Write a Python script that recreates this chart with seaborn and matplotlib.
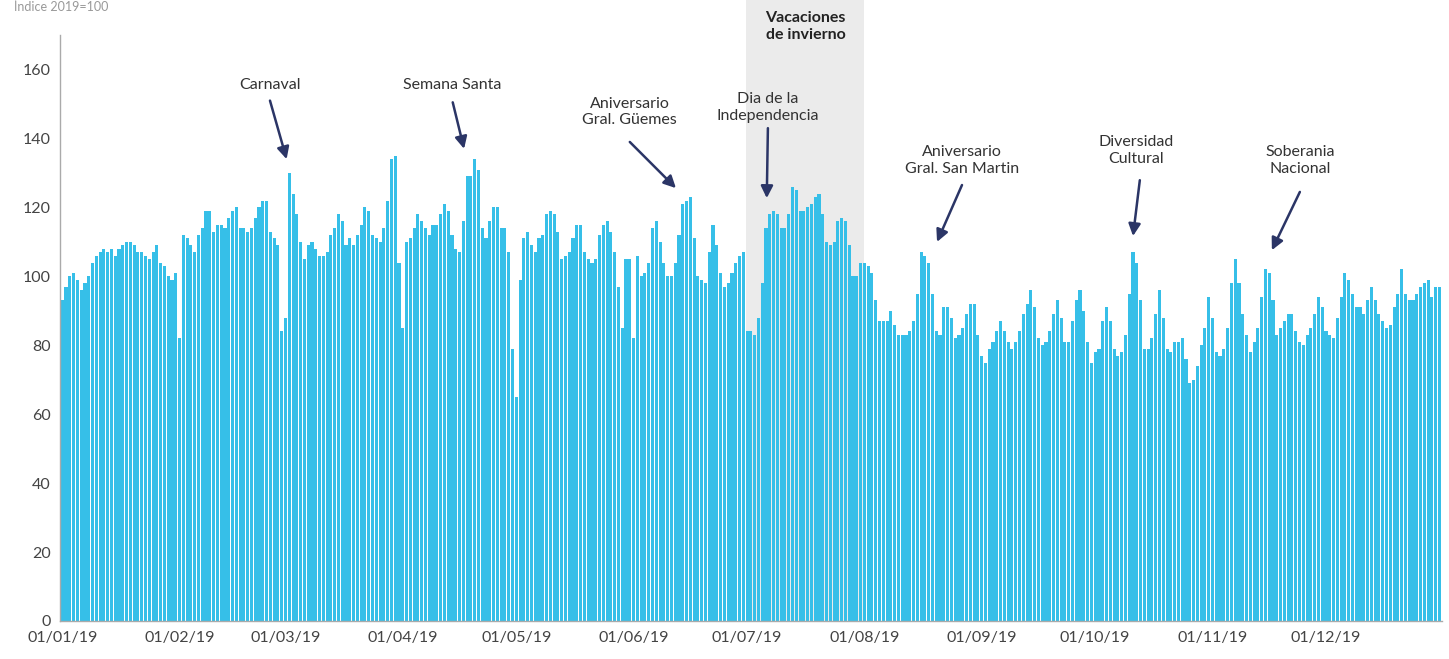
import numpy as np
import pandas as pd
import seaborn as sns
import matplotlib.pyplot as plt

# daily index values (2019 = 100), one list per month
ene = [93, 97, 100, 101, 99, 96, 98, 100, 104, 106, 107, 108, 107, 108, 106, 108,
       109, 110, 110, 109, 107, 107, 106, 105, 107, 109, 104, 103, 100, 99, 101]
feb = [82, 112, 111, 109, 107, 112, 114, 119, 119, 113, 115, 115, 114, 117, 119, 120,
       114, 114, 113, 114, 117, 120, 122, 122, 113, 111, 109, 84]
mar = [88, 130, 124, 118, 110, 105, 109, 110, 108, 106, 106, 107, 112, 114, 118, 116,
       109, 111, 109, 112, 115, 120, 119, 112, 111, 110, 114, 122, 134, 135, 104]
abr = [85, 110, 111, 114, 118, 116, 114, 112, 115, 115, 118, 121, 119, 112, 108, 107,
       116, 129, 129, 134, 131, 114, 111, 116, 120, 120, 114, 114, 107, 79]
may = [65, 99, 111, 113, 109, 107, 111, 112, 118, 119, 118, 113, 105, 106, 107, 111,
       115, 115, 107, 105, 104, 105, 112, 115, 116, 113, 107, 97, 85, 105, 105]
jun = [82, 106, 100, 101, 104, 114, 116, 110, 104, 100, 100, 104, 112, 121, 122, 123,
       111, 100, 99, 98, 107, 115, 109, 101, 97, 98, 101, 104, 106, 107]
jul = [84, 84, 83, 88, 98, 114, 118, 119, 118, 114, 114, 118, 126, 125, 119, 119,
       120, 121, 123, 124, 118, 110, 109, 110, 116, 117, 116, 109, 100, 100, 104]
ago = [104, 103, 101, 93, 87, 87, 87, 90, 86, 83, 83, 83, 84, 87, 95, 107,
       106, 104, 95, 84, 83, 91, 91, 88, 82, 83, 85, 89, 92, 92, 83]
sep = [77, 75, 79, 81, 84, 87, 84, 81, 79, 81, 84, 89, 92, 96, 91, 82,
       80, 81, 84, 89, 93, 88, 81, 81, 87, 93, 96, 90, 81, 75]
oct_ = [78, 79, 87, 91, 87, 79, 77, 78, 83, 95, 107, 104, 93, 79, 79, 82,
        89, 96, 88, 79, 78, 81, 81, 82, 76, 69, 70, 74, 80, 85, 94]
nov = [88, 78, 77, 79, 85, 98, 105, 98, 89, 83, 78, 81, 85, 94, 102, 101,
       93, 83, 85, 87, 89, 89, 84, 81, 80, 83, 85, 89, 94, 91]
dic = [84, 83, 82, 88, 94, 101, 99, 95, 91, 91, 89, 93, 97, 93, 89, 87,
       85, 86, 91, 95, 102, 95, 93, 93, 95, 97, 98, 99, 94, 97, 97]

month_labels = ['01/01/19', '01/02/19', '01/03/19', '01/04/19', '01/05/19', '01/06/19',
                '01/07/19', '01/08/19', '01/09/19', '01/10/19', '01/11/19', '01/12/19']

# holiday annotations: label, text position, arrow start, arrow end (day, value)
notes = [
    ('Carnaval', (54.9, 155.5), (54.9, 151.0), (59.3, 134.0)),
    ('Semana Santa', (103.0, 155.5), (103.2, 150.5), (106.2, 137.0)),
    ('Aniversario\nGral. Güemes', (150.0, 147.7), (150.0, 139.0), (162.2, 125.6)),
    ('Dia de la\nIndependencia', (186.5, 149.1), (186.5, 143.0), (186.2, 122.7)),
    ('Aniversario\nGral. San Martin', (237.8, 133.7), (237.8, 126.5), (231.2, 110.0)),
    ('Diversidad\nCultural', (283.8, 136.6), (284.8, 127.9), (283.0, 111.7)),
    ('Soberania\nNacional', (327.1, 133.7), (327.1, 124.5), (319.7, 107.6)),
]

months = [ene, feb, mar, abr, may, jun, jul, ago, sep, oct_, nov, dic]
vals = np.concatenate(months)
df = pd.DataFrame({'dia': np.arange(len(vals)), 'indice': vals})
month_start = np.cumsum([0] + [len(m) for m in months[:-1]])

sns.set_style('white')
plt.rcParams['font.family'] = ['Lato', 'DejaVu Sans']

fig = plt.figure(figsize=(14.49, 6.59), dpi=100)
ax = fig.add_axes([0.0414, 0.0577, 0.9536, 0.889])

# winter holidays shading (extends above the axes)
ax.axvspan(180.6, 212.0, ymin=0, ymax=1.06, color='#EBEBEB', zorder=0, clip_on=False, lw=0)

sns.barplot(data=df, x='dia', y='indice', color='#36BFE8', saturation=1,
            width=0.82, linewidth=0, ax=ax, zorder=2)

ax.set_xlim(-0.6, 364.6)
ax.set_ylim(0, 170)
ax.set_yticks(range(0, 161, 20))
ax.set_xticks(month_start)
ax.set_xticklabels(month_labels)
ax.set_xlabel('')
ax.set_ylabel('')
ax.tick_params(axis='both', labelsize=11.5, colors='#444444', length=3, width=0.8)
ax.tick_params(axis='x', pad=4)

for s in ['top', 'right']:
    ax.spines[s].set_visible(False)
for s in ['left', 'bottom']:
    ax.spines[s].set_color('#AAAAAA')
    ax.spines[s].set_linewidth(1)

for label, txt, start, end in notes:
    ax.text(txt[0], txt[1], label, ha='center', va='center', fontsize=11.5,
            color='#333333', linespacing=1.25)
    ax.annotate('', xy=end, xytext=start,
                arrowprops=dict(arrowstyle='-|>', color='#2B3566', lw=1.8,
                                mutation_scale=18, shrinkA=0, shrinkB=0))

ax.text(196.5, 172.5, 'Vacaciones\nde invierno', ha='center', va='center',
        fontsize=11.5, fontweight='bold', color='#222222', linespacing=1.3)

fig.text(0.01, 0.999, 'Índice 2019=100', ha='left', va='top', fontsize=9, color='#999999')

plt.savefig('out.png', dpi=100)
